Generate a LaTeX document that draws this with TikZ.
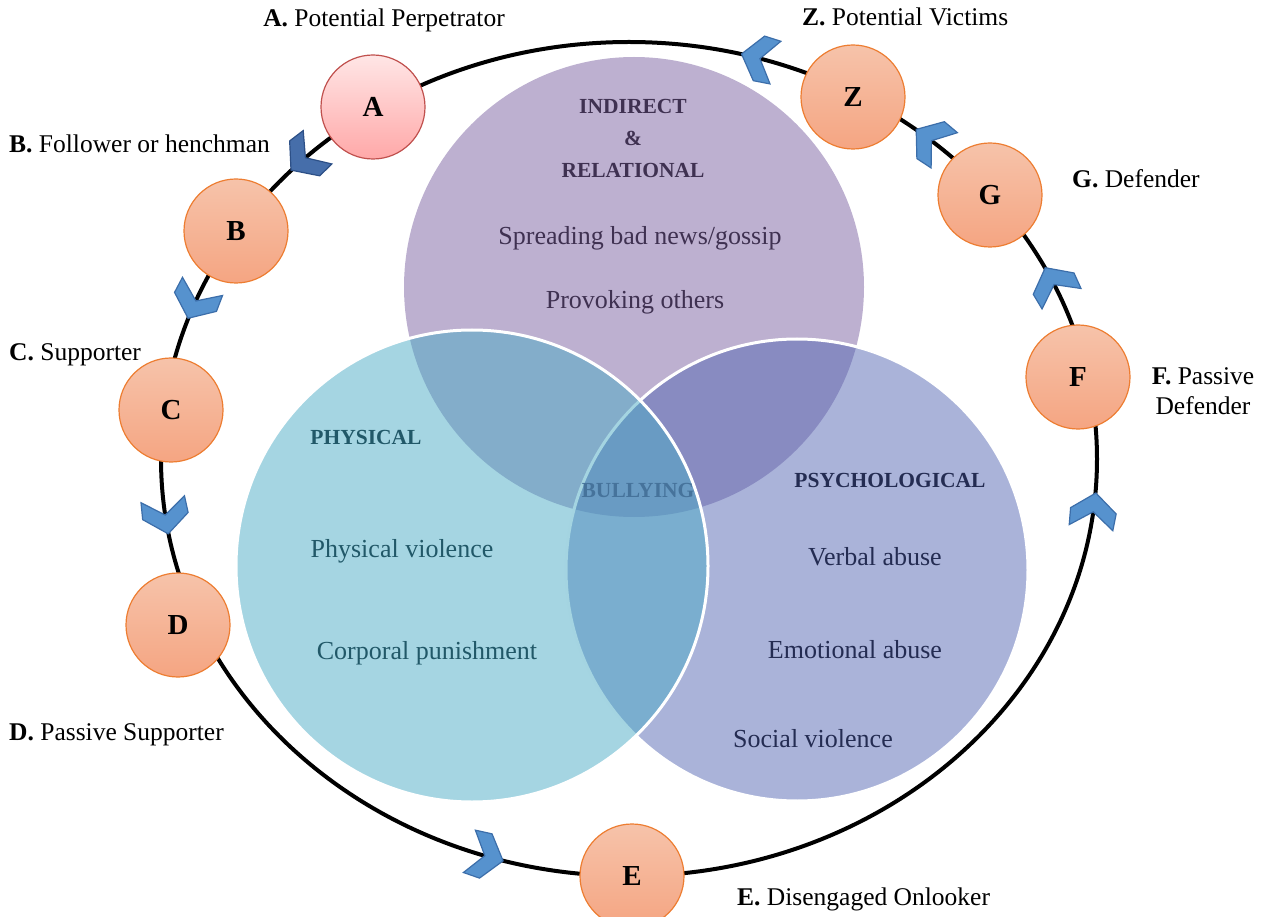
\documentclass[tikz,border=0pt]{standalone}
\usepackage{fontspec}
\setmainfont{Liberation Serif}
\usetikzlibrary{calc}

\definecolor{roleedge}{RGB}{237,125,49}
\definecolor{roletop}{RGB}{246,195,170}
\definecolor{rolebottom}{RGB}{245,165,130}
\definecolor{perpedge}{RGB}{192,80,77}
\definecolor{perptop}{RGB}{255,230,230}
\definecolor{perpbottom}{RGB}{255,168,168}
\definecolor{chevblue}{RGB}{86,146,206}
\definecolor{chevedge}{RGB}{60,110,170}
\definecolor{chevdark}{RGB}{70,110,170}
\definecolor{chevdarkedge}{RGB}{45,80,135}
\definecolor{indirectfill}{RGB}{189,176,208}
\definecolor{physfill}{RGB}{75,171,197}
\definecolor{psychfill}{RGB}{85,103,179}
\definecolor{indirecttext}{RGB}{63,49,81}
\definecolor{phystext}{RGB}{33,88,104}
\definecolor{psychtext}{RGB}{36,44,82}
\definecolor{bullytext}{RGB}{70,115,155}

\tikzset{
  role/.style={circle, minimum size=104pt, inner sep=0pt, draw=roleedge,
    line width=1.2pt, top color=roletop, bottom color=rolebottom,
    font=\fontsize{29}{34}\selectfont\bfseries},
  perp/.style={role, draw=perpedge, top color=perptop, bottom color=perpbottom},
  rolelabel/.style={font=\fontsize{25.5}{30}\selectfont, inner sep=0pt},
  kind/.style={font=\fontsize{21.5}{32}\selectfont\bfseries, align=center},
  act/.style={font=\fontsize{26}{31}\selectfont},
  chev/.style={fill=chevblue, draw=chevedge, line width=1.2pt},
  chevron/.pic={\path[chev] (17,0) -- (-1,-23) -- (-18,-22) -- (-2,0)
    -- (-18,22) -- (-1,23) -- cycle;}
}

\begin{document}
\begin{tikzpicture}[x=1pt,y=-1pt]
\useasboundingbox (0,0) rectangle (1262,917);

% the ring of roles
\coordinate (ringc) at (629,459);
\draw[line width=4pt] (ringc) ellipse [x radius=468, y radius=417];

% the three kinds of bullying
\coordinate (topc) at (634,287);
\coordinate (rightc) at (797,570);
\coordinate (leftc) at (472,566);
\fill[indirectfill] (topc) circle (230);
\draw[white, line width=3pt, fill=psychfill, fill opacity=0.5] (rightc) circle (231);
\draw[white, line width=3pt, fill=physfill, fill opacity=0.5] (leftc) circle (236);

\node[kind, text=indirecttext] (indirect) at (633,138) {INDIRECT\\\&\\RELATIONAL};
\node[act, text=indirecttext] (gossip) at (640,238) {Spreading bad news/gossip};
\node[act, text=indirecttext] (provoke) at (635,302) {Provoking others};

\node[kind, text=phystext] (physical) at (366,437) {PHYSICAL};
\node[act, text=phystext] (violence) at (402,551) {Physical violence};
\node[act, text=phystext] (corporal) at (427,653) {Corporal punishment};

\node[kind, text=psychtext] (psych) at (890,480) {PSYCHOLOGICAL};
\node[act, text=psychtext] (verbal) at (875,557) {Verbal abuse};
\node[act, text=psychtext] (emotional) at (855,650) {Emotional abuse};
\node[act, text=psychtext] (social) at (813,739) {Social violence};

\node[kind, text=bullytext] (bullying) at (638,490) {BULLYING};

% arrows along the ring
\pic[rotate=-139.3, chev/.append style={fill=chevdark, draw=chevdarkedge}]
  at ($(ringc)+(-134:468 and 417)$) {chevron};
\pic[rotate=-114.4] at ($(ringc)+(-158:468 and 417)$) {chevron};
\pic[rotate=-81] at ($(ringc)+(172:468 and 417)$) {chevron};
\pic[rotate=-15.8] at ($(ringc)+(107.7:468 and 417)$) {chevron};
\pic[rotate=82] at ($(ringc)+(7:468 and 417)$) {chevron};
\pic[rotate=117.7] at ($(ringc)+(-25:468 and 417)$) {chevron};
\pic[rotate=143.3] at ($(ringc)+(-50:468 and 417)$) {chevron};
\pic[rotate=165.7] at ($(ringc)+(-74:468 and 417)$) {chevron};

% roles
\node[perp] (A) at (373,107) {A};
\node[role] (B) at (236,231) {B};
\node[role] (C) at (171,410) {C};
\node[role] (D) at (178,625) {D};
\node[role] (E) at (632,876) {E};
\node[role] (F) at (1078,377) {F};
\node[role] (G) at (990,195) {G};
\node[role] (Z) at (853,97) {Z};

\node[rolelabel] (lblA) at (384,20) {\textbf{A.} Potential Perpetrator};
\node[rolelabel, anchor=west] (lblB) at (9,144) {\textbf{B.} Follower or henchman};
\node[rolelabel, anchor=west] (lblC) at (9,355) {\textbf{C.} Supporter};
\node[rolelabel, anchor=west] (lblD) at (9,735) {\textbf{D.} Passive Supporter};
\node[rolelabel, anchor=west] (lblE) at (737,899) {\textbf{E.} Disengaged Onlooker};
\node[rolelabel, align=center] (lblF) at (1203,391) {\textbf{F.} Passive\\[0pt]Defender};
\node[rolelabel, anchor=west] (lblG) at (1072,179) {\textbf{G.} Defender};
\node[rolelabel, anchor=west] (lblZ) at (802,17) {\textbf{Z.} Potential Victims};
\end{tikzpicture}
\end{document}
